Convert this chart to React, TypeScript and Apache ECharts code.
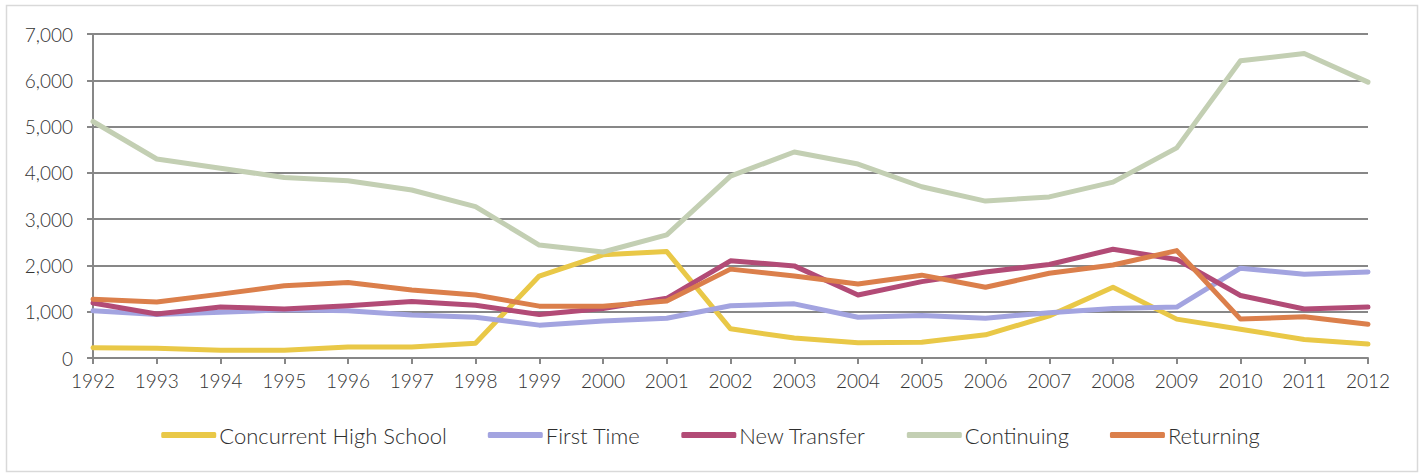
import React, { useEffect, useRef } from "react";
import * as echarts from "echarts";

const years = ["1992","1993","1994","1995","1996","1997","1998","1999","2000","2001","2002","2003","2004","2005","2006","2007","2008","2009","2010","2011","2012"];
const concurrentHS = [220, 210, 170, 170, 240, 240, 320, 1770, 2230, 2300, 630, 430, 330, 340, 500, 910, 1530, 840, 620, 400, 300];
const firstTime = [1020, 940, 990, 1040, 1020, 930, 880, 710, 800, 860, 1130, 1170, 880, 920, 860, 980, 1070, 1100, 1940, 1810, 1860];
const newTransfer = [1190, 950, 1100, 1060, 1130, 1220, 1140, 940, 1070, 1290, 2100, 1990, 1360, 1650, 1860, 2020, 2350, 2130, 1350, 1060, 1100];
const continuing = [5110, 4300, 4100, 3900, 3830, 3630, 3270, 2440, 2290, 2660, 3930, 4450, 4190, 3700, 3390, 3480, 3800, 4540, 6420, 6580, 5960];
const returning = [1270, 1210, 1380, 1560, 1630, 1470, 1360, 1120, 1120, 1230, 1920, 1770, 1600, 1790, 1530, 1830, 2010, 2320, 840, 890, 730];

const seriesNames = ["Concurrent High School", "First Time", "New Transfer", "Continuing", "Returning"];
const seriesData = [concurrentHS, firstTime, newTransfer, continuing, returning];
const colors = ["#E9C847", "#A3A4E0", "#B24B76", "#C3CFB3", "#DB7F4B"];

export default function App() {
  const ref = useRef<HTMLDivElement>(null);
  useEffect(() => {
    document.body.style.margin = "0";
    const chart = echarts.init(ref.current!, null, { renderer: "svg" });
    chart.setOption({
      animation: false,
      backgroundColor: "#ffffff",
      textStyle: { fontFamily: "Lato" },
      graphic: [
        {
          type: "rect",
          shape: { x: 6.5, y: 5.5, width: 1411, height: 466 },
          style: { fill: "none", stroke: "#D9D9D9", lineWidth: 1.5 },
          silent: true,
        },
      ],
      grid: { left: 93, right: 53, top: 34, bottom: 118 },
      legend: {
        bottom: 25,
        left: "center",
        icon: "roundRect",
        itemWidth: 55,
        itemHeight: 6,
        itemGap: 41,
        textStyle: { fontSize: 22, color: "#2e2e2e", fontFamily: "Lato", fontWeight: 300, padding: [0, 0, 0, -2] },
        data: seriesNames,
      },
      xAxis: {
        type: "category",
        data: years,
        boundaryGap: false,
        axisLine: { lineStyle: { color: "#878787", width: 2 } },
        axisTick: { show: true, length: 6, lineStyle: { color: "#878787", width: 2 } },
        axisLabel: { fontSize: 19, color: "#333333", margin: 13, fontFamily: "Lato", fontWeight: 300 },
        splitLine: { show: false },
      },
      yAxis: {
        type: "value",
        min: 0,
        max: 7000,
        interval: 1000,
        axisLine: { show: true, lineStyle: { color: "#878787", width: 2 } },
        axisTick: { show: true, length: 6, lineStyle: { color: "#878787", width: 2 } },
        axisLabel: {
          fontSize: 19,
          color: "#333333",
          margin: 20,
          fontFamily: "Lato",
          fontWeight: 300,
          formatter: (v: number) => v.toLocaleString("en-US"),
        },
        splitLine: { show: true, lineStyle: { color: "#878787", width: 2 } },
      },
      series: seriesNames.map((name, i) => ({
        name,
        type: "line",
        data: seriesData[i],
        showSymbol: false,
        symbol: "none",
        lineStyle: { color: colors[i], width: 5, cap: "round", join: "round" },
        itemStyle: { color: colors[i] },
      })),
    });
    return () => chart.dispose();
  }, []);
  return <div ref={ref} style={{ position: "absolute", left: 0, top: 0, width: 1421, height: 476 }} />;
}
